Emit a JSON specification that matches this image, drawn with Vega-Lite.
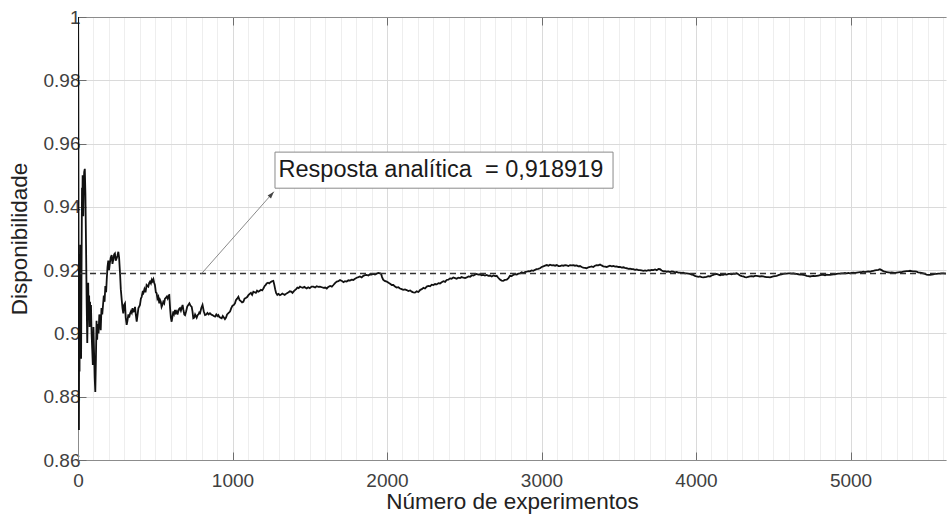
{
  "$schema": "https://vega.github.io/schema/vega-lite/v6.json",
  "width": 868,
  "height": 443,
  "autosize": "none",
  "padding": {"left": 78, "top": 17, "right": 1, "bottom": 57},
  "background": "white",
  "config": {
    "view": {"stroke": null},
    "font": "Liberation Sans",
    "axis": {
      "domainColor": "#8c8c8c",
      "domainWidth": 1,
      "tickColor": "#6e6e6e",
      "labelFont": "Liberation Sans",
      "labelFontSize": 19,
      "labelColor": "#404040",
      "titleFont": "Liberation Sans",
      "titleFontSize": 22.5,
      "titleFontWeight": "normal",
      "titleColor": "#222222"
    }
  },
  "datasets": {
    "sim": [
      {"n":1,"v":1.0},{"n":2,"v":0.985},{"n":3,"v":0.95},{"n":4,"v":0.92},{"n":5,"v":0.89},{"n":6,"v":0.8695},{"n":7,"v":0.895},{"n":8,"v":0.925},{"n":9,"v":0.905},{"n":10,"v":0.888},
      {"n":12,"v":0.92},{"n":14,"v":0.9},{"n":16,"v":0.928},{"n":18,"v":0.905},{"n":20,"v":0.892},{"n":22,"v":0.912},{"n":24,"v":0.93},{"n":26,"v":0.946},{"n":28,"v":0.938},{"n":30,"v":0.95},
      {"n":32,"v":0.942},{"n":34,"v":0.937},{"n":37,"v":0.946},{"n":40,"v":0.951},{"n":44,"v":0.952},{"n":48,"v":0.944},{"n":52,"v":0.928},{"n":56,"v":0.91},{"n":60,"v":0.897},{"n":63,"v":0.906},
      {"n":66,"v":0.916},{"n":69,"v":0.905},{"n":72,"v":0.912},{"n":75,"v":0.902},{"n":78,"v":0.91},{"n":81,"v":0.903},{"n":84,"v":0.909},{"n":88,"v":0.9},{"n":92,"v":0.895},{"n":96,"v":0.89},
      {"n":100,"v":0.902},{"n":104,"v":0.894},{"n":108,"v":0.886},{"n":112,"v":0.8815},{"n":116,"v":0.892},{"n":120,"v":0.904},{"n":124,"v":0.898},{"n":128,"v":0.903},{"n":133,"v":0.9},{"n":138,"v":0.906},
      {"n":142,"v":0.905},{"n":147,"v":0.901},{"n":152,"v":0.908},{"n":157,"v":0.906},{"n":162,"v":0.909},{"n":167,"v":0.912},{"n":172,"v":0.91},{"n":177,"v":0.915},{"n":182,"v":0.913},{"n":186,"v":0.917},
      {"n":191,"v":0.921},{"n":196,"v":0.923},{"n":201,"v":0.92},{"n":207,"v":0.9225},{"n":212,"v":0.924},{"n":218,"v":0.9248},{"n":223,"v":0.922},{"n":229,"v":0.9235},{"n":234,"v":0.925},{"n":239,"v":0.9253},
      {"n":244,"v":0.923},{"n":250,"v":0.9237},{"n":255,"v":0.9245},{"n":261,"v":0.9258},{"n":266,"v":0.924},{"n":272,"v":0.919},{"n":277,"v":0.914},{"n":283,"v":0.9106},{"n":288,"v":0.908},{"n":293,"v":0.9063},
      {"n":298,"v":0.909},{"n":304,"v":0.9095},{"n":309,"v":0.905},{"n":315,"v":0.9027},{"n":320,"v":0.904},{"n":326,"v":0.906},{"n":331,"v":0.905},{"n":337,"v":0.9063},{"n":343,"v":0.907},{"n":348,"v":0.9065},
      {"n":353,"v":0.908},{"n":358,"v":0.9069},{"n":364,"v":0.907},{"n":369,"v":0.9084},{"n":374,"v":0.906},{"n":380,"v":0.9037},{"n":386,"v":0.906},{"n":391,"v":0.908},{"n":396,"v":0.9085},{"n":401,"v":0.909},
      {"n":407,"v":0.911},{"n":412,"v":0.9115},{"n":418,"v":0.913},{"n":423,"v":0.9127},{"n":430,"v":0.914},{"n":437,"v":0.913},{"n":444,"v":0.9153},{"n":450,"v":0.915},{"n":455,"v":0.9148},{"n":461,"v":0.916},
      {"n":466,"v":0.9164},{"n":472,"v":0.9158},{"n":478,"v":0.917},{"n":483,"v":0.9165},{"n":488,"v":0.9171},{"n":493,"v":0.916},{"n":498,"v":0.9153},{"n":504,"v":0.913},{"n":509,"v":0.9127},{"n":514,"v":0.911},
      {"n":520,"v":0.9116},{"n":526,"v":0.9095},{"n":531,"v":0.9106},{"n":536,"v":0.91},{"n":541,"v":0.9084},{"n":546,"v":0.909},{"n":552,"v":0.91},{"n":558,"v":0.9095},{"n":563,"v":0.911},{"n":568,"v":0.9112},
      {"n":574,"v":0.9116},{"n":580,"v":0.911},{"n":586,"v":0.912},{"n":591,"v":0.9121},{"n":596,"v":0.908},{"n":601,"v":0.905},{"n":606,"v":0.9037},{"n":612,"v":0.9055},{"n":617,"v":0.907},{"n":622,"v":0.9062},
      {"n":628,"v":0.9074},{"n":633,"v":0.9065},{"n":639,"v":0.907},{"n":644,"v":0.906},{"n":649,"v":0.9069},{"n":655,"v":0.9078},{"n":660,"v":0.908},{"n":666,"v":0.9072},{"n":671,"v":0.908},{"n":677,"v":0.909},
      {"n":682,"v":0.9075},{"n":688,"v":0.906},{"n":693,"v":0.9058},{"n":700,"v":0.907},{"n":707,"v":0.9085},{"n":714,"v":0.909},{"n":721,"v":0.9095},{"n":728,"v":0.9088},{"n":736,"v":0.9084},{"n":741,"v":0.907},
      {"n":746,"v":0.9048},{"n":752,"v":0.905},{"n":758,"v":0.906},{"n":763,"v":0.9055},{"n":768,"v":0.905},{"n":774,"v":0.9058},{"n":780,"v":0.906},{"n":785,"v":0.9066},{"n":790,"v":0.9064},{"n":798,"v":0.908},
      {"n":806,"v":0.909},{"n":814,"v":0.907},{"n":822,"v":0.9058},{"n":830,"v":0.906},{"n":838,"v":0.9065},{"n":846,"v":0.906},{"n":854,"v":0.9064},{"n":862,"v":0.906},{"n":870,"v":0.9058},{"n":879,"v":0.9055},
      {"n":887,"v":0.9053},{"n":895,"v":0.906},{"n":902,"v":0.9055},{"n":908,"v":0.9058},{"n":915,"v":0.9052},{"n":922,"v":0.905},{"n":930,"v":0.9048},{"n":937,"v":0.9055},{"n":944,"v":0.905},{"n":951,"v":0.9045},
      {"n":958,"v":0.905},{"n":965,"v":0.906},{"n":975,"v":0.9065},{"n":984,"v":0.9069},{"n":992,"v":0.908},{"n":1000,"v":0.9088},{"n":1008,"v":0.909},{"n":1016,"v":0.9095},{"n":1022,"v":0.9105},{"n":1030,"v":0.911},
      {"n":1038,"v":0.9116},{"n":1046,"v":0.9105},{"n":1054,"v":0.9102},{"n":1062,"v":0.9098},{"n":1070,"v":0.91},{"n":1078,"v":0.911},{"n":1086,"v":0.9112},{"n":1095,"v":0.9115},{"n":1103,"v":0.9121},{"n":1111,"v":0.9125},
      {"n":1119,"v":0.9128},{"n":1127,"v":0.9122},{"n":1135,"v":0.9132},{"n":1143,"v":0.913},{"n":1151,"v":0.9128},{"n":1159,"v":0.9135},{"n":1167,"v":0.9132},{"n":1175,"v":0.9134},{"n":1184,"v":0.9138},{"n":1192,"v":0.9136},
      {"n":1200,"v":0.9142},{"n":1208,"v":0.915},{"n":1215,"v":0.9153},{"n":1221,"v":0.9158},{"n":1230,"v":0.916},{"n":1238,"v":0.9158},{"n":1246,"v":0.9162},{"n":1255,"v":0.9165},{"n":1264,"v":0.9166},{"n":1270,"v":0.9155},
      {"n":1276,"v":0.914},{"n":1282,"v":0.9128},{"n":1290,"v":0.9122},{"n":1298,"v":0.9125},{"n":1307,"v":0.9121},{"n":1315,"v":0.9123},{"n":1323,"v":0.9126},{"n":1330,"v":0.9124},{"n":1338,"v":0.9122},{"n":1346,"v":0.9125},
      {"n":1355,"v":0.9128},{"n":1363,"v":0.913},{"n":1371,"v":0.9133},{"n":1380,"v":0.9132},{"n":1388,"v":0.9128},{"n":1396,"v":0.9133},{"n":1404,"v":0.9137},{"n":1412,"v":0.914},{"n":1420,"v":0.9145},{"n":1428,"v":0.9143},
      {"n":1437,"v":0.9148},{"n":1445,"v":0.9146},{"n":1455,"v":0.9144},{"n":1465,"v":0.9147},{"n":1480,"v":0.9142},{"n":1490,"v":0.9146},{"n":1500,"v":0.9143},{"n":1512,"v":0.9148},{"n":1523,"v":0.9148},{"n":1535,"v":0.9145},
      {"n":1545,"v":0.9149},{"n":1555,"v":0.9147},{"n":1566,"v":0.9148},{"n":1578,"v":0.9146},{"n":1590,"v":0.9144},{"n":1600,"v":0.9145},{"n":1610,"v":0.9142},{"n":1620,"v":0.9147},{"n":1632,"v":0.915},{"n":1643,"v":0.9148},
      {"n":1653,"v":0.9153},{"n":1665,"v":0.916},{"n":1675,"v":0.9164},{"n":1685,"v":0.9165},{"n":1696,"v":0.9169},{"n":1708,"v":0.9166},{"n":1718,"v":0.9162},{"n":1728,"v":0.9165},{"n":1739,"v":0.9164},{"n":1750,"v":0.9168},
      {"n":1760,"v":0.9167},{"n":1771,"v":0.917},{"n":1782,"v":0.9169},{"n":1793,"v":0.9173},{"n":1804,"v":0.9176},{"n":1815,"v":0.9178},{"n":1825,"v":0.918},{"n":1836,"v":0.9177},{"n":1847,"v":0.9182},{"n":1857,"v":0.9184},
      {"n":1868,"v":0.9185},{"n":1880,"v":0.9183},{"n":1890,"v":0.9187},{"n":1900,"v":0.9186},{"n":1911,"v":0.9188},{"n":1922,"v":0.9186},{"n":1933,"v":0.9189},{"n":1944,"v":0.9191},{"n":1955,"v":0.919},{"n":1962,"v":0.9188},
      {"n":1968,"v":0.9178},{"n":1975,"v":0.917},{"n":1985,"v":0.9166},{"n":1998,"v":0.9164},{"n":2010,"v":0.916},{"n":2020,"v":0.9157},{"n":2031,"v":0.9153},{"n":2041,"v":0.9153},{"n":2052,"v":0.9148},{"n":2062,"v":0.9145},
      {"n":2073,"v":0.9146},{"n":2084,"v":0.9142},{"n":2095,"v":0.914},{"n":2105,"v":0.9138},{"n":2116,"v":0.9139},{"n":2127,"v":0.9137},{"n":2138,"v":0.9134},{"n":2150,"v":0.9136},{"n":2160,"v":0.9132},{"n":2170,"v":0.913},
      {"n":2181,"v":0.9129},{"n":2192,"v":0.9133},{"n":2203,"v":0.9131},{"n":2214,"v":0.9137},{"n":2225,"v":0.914},{"n":2236,"v":0.9144},{"n":2246,"v":0.9142},{"n":2257,"v":0.9148},{"n":2268,"v":0.915},{"n":2279,"v":0.9149},
      {"n":2290,"v":0.9154},{"n":2300,"v":0.9153},{"n":2311,"v":0.9156},{"n":2322,"v":0.9155},{"n":2333,"v":0.9159},{"n":2343,"v":0.9158},{"n":2354,"v":0.9162},{"n":2365,"v":0.9165},{"n":2376,"v":0.9163},{"n":2386,"v":0.9169},
      {"n":2397,"v":0.917},{"n":2408,"v":0.9174},{"n":2418,"v":0.9173},{"n":2429,"v":0.9177},{"n":2440,"v":0.9175},{"n":2451,"v":0.9173},{"n":2461,"v":0.9176},{"n":2472,"v":0.9175},{"n":2483,"v":0.9178},{"n":2494,"v":0.9176},
      {"n":2505,"v":0.9175},{"n":2516,"v":0.9177},{"n":2527,"v":0.918},{"n":2538,"v":0.9179},{"n":2550,"v":0.9184},{"n":2560,"v":0.9183},{"n":2570,"v":0.9186},{"n":2580,"v":0.9188},{"n":2590,"v":0.9186},{"n":2601,"v":0.9187},
      {"n":2612,"v":0.9184},{"n":2623,"v":0.9185},{"n":2634,"v":0.9183},{"n":2645,"v":0.9185},{"n":2656,"v":0.9182},{"n":2667,"v":0.9183},{"n":2678,"v":0.918},{"n":2689,"v":0.9183},{"n":2700,"v":0.9181},{"n":2710,"v":0.9182},
      {"n":2720,"v":0.9176},{"n":2731,"v":0.917},{"n":2742,"v":0.9167},{"n":2752,"v":0.9166},{"n":2763,"v":0.9169},{"n":2775,"v":0.917},{"n":2786,"v":0.9175},{"n":2796,"v":0.9182},{"n":2807,"v":0.9181},{"n":2818,"v":0.9185},
      {"n":2830,"v":0.9187},{"n":2840,"v":0.9186},{"n":2850,"v":0.9189},{"n":2861,"v":0.919},{"n":2872,"v":0.9193},{"n":2883,"v":0.9191},{"n":2893,"v":0.9194},{"n":2904,"v":0.9195},{"n":2915,"v":0.9197},{"n":2925,"v":0.9196},
      {"n":2936,"v":0.9199},{"n":2947,"v":0.9198},{"n":2958,"v":0.9201},{"n":2968,"v":0.9203},{"n":2979,"v":0.9204},{"n":2990,"v":0.9206},{"n":3001,"v":0.921},{"n":3012,"v":0.9212},{"n":3023,"v":0.9214},{"n":3034,"v":0.9216},
      {"n":3045,"v":0.9214},{"n":3055,"v":0.9217},{"n":3066,"v":0.9215},{"n":3077,"v":0.9216},{"n":3088,"v":0.9214},{"n":3099,"v":0.9216},{"n":3110,"v":0.9213},{"n":3120,"v":0.9213},{"n":3131,"v":0.9215},{"n":3142,"v":0.9214},
      {"n":3153,"v":0.9216},{"n":3163,"v":0.9215},{"n":3174,"v":0.9213},{"n":3185,"v":0.9216},{"n":3195,"v":0.9215},{"n":3206,"v":0.9216},{"n":3217,"v":0.9214},{"n":3228,"v":0.9215},{"n":3238,"v":0.9212},{"n":3249,"v":0.9213},
      {"n":3260,"v":0.921},{"n":3270,"v":0.9208},{"n":3281,"v":0.9207},{"n":3292,"v":0.9206},{"n":3303,"v":0.9209},{"n":3313,"v":0.921},{"n":3324,"v":0.9212},{"n":3335,"v":0.921},{"n":3346,"v":0.9214},{"n":3357,"v":0.9216},
      {"n":3368,"v":0.9215},{"n":3379,"v":0.9218},{"n":3389,"v":0.9215},{"n":3400,"v":0.9212},{"n":3411,"v":0.9211},{"n":3422,"v":0.921},{"n":3432,"v":0.9212},{"n":3443,"v":0.9214},{"n":3454,"v":0.9212},{"n":3465,"v":0.9213},
      {"n":3476,"v":0.9211},{"n":3487,"v":0.9212},{"n":3497,"v":0.921},{"n":3508,"v":0.921},{"n":3519,"v":0.9208},{"n":3530,"v":0.9209},{"n":3540,"v":0.9207},{"n":3551,"v":0.9206},{"n":3562,"v":0.9204},{"n":3573,"v":0.9205},
      {"n":3584,"v":0.9203},{"n":3594,"v":0.9203},{"n":3605,"v":0.9201},{"n":3616,"v":0.9202},{"n":3627,"v":0.92},{"n":3637,"v":0.92},{"n":3648,"v":0.9199},{"n":3659,"v":0.9198},{"n":3670,"v":0.9199},{"n":3680,"v":0.9198},
      {"n":3691,"v":0.92},{"n":3702,"v":0.9199},{"n":3713,"v":0.9201},{"n":3724,"v":0.92},{"n":3735,"v":0.9202},{"n":3746,"v":0.92},{"n":3757,"v":0.9204},{"n":3767,"v":0.9203},{"n":3778,"v":0.9199},{"n":3789,"v":0.9196},
      {"n":3800,"v":0.9197},{"n":3810,"v":0.9195},{"n":3821,"v":0.9196},{"n":3832,"v":0.9194},{"n":3842,"v":0.9196},{"n":3853,"v":0.9195},{"n":3864,"v":0.9193},{"n":3875,"v":0.9194},{"n":3885,"v":0.9192},{"n":3896,"v":0.9192},
      {"n":3907,"v":0.9191},{"n":3918,"v":0.9192},{"n":3928,"v":0.919},{"n":3939,"v":0.919},{"n":3950,"v":0.9189},{"n":3961,"v":0.9188},{"n":3972,"v":0.9186},{"n":3982,"v":0.9185},{"n":3993,"v":0.9182},{"n":4004,"v":0.918},
      {"n":4015,"v":0.9179},{"n":4025,"v":0.918},{"n":4036,"v":0.9178},{"n":4047,"v":0.9177},{"n":4058,"v":0.9178},{"n":4068,"v":0.9179},{"n":4079,"v":0.9181},{"n":4090,"v":0.918},{"n":4101,"v":0.9183},{"n":4112,"v":0.9185},
      {"n":4123,"v":0.9187},{"n":4134,"v":0.9188},{"n":4145,"v":0.9186},{"n":4156,"v":0.9184},{"n":4166,"v":0.9186},{"n":4177,"v":0.9185},{"n":4188,"v":0.9187},{"n":4199,"v":0.9186},{"n":4210,"v":0.9188},{"n":4220,"v":0.9188},
      {"n":4231,"v":0.9187},{"n":4242,"v":0.9189},{"n":4252,"v":0.9188},{"n":4263,"v":0.919},{"n":4274,"v":0.9187},{"n":4285,"v":0.9183},{"n":4296,"v":0.9181},{"n":4306,"v":0.918},{"n":4317,"v":0.9178},{"n":4328,"v":0.9177},
      {"n":4338,"v":0.9179},{"n":4349,"v":0.918},{"n":4360,"v":0.9181},{"n":4371,"v":0.918},{"n":4381,"v":0.9182},{"n":4392,"v":0.9182},{"n":4403,"v":0.9181},{"n":4414,"v":0.918},{"n":4424,"v":0.9181},{"n":4435,"v":0.918},
      {"n":4446,"v":0.9179},{"n":4457,"v":0.9178},{"n":4468,"v":0.9178},{"n":4479,"v":0.9177},{"n":4490,"v":0.9179},{"n":4500,"v":0.918},{"n":4511,"v":0.9181},{"n":4522,"v":0.9182},{"n":4533,"v":0.9184},{"n":4543,"v":0.9186},
      {"n":4554,"v":0.9187},{"n":4565,"v":0.9188},{"n":4576,"v":0.9189},{"n":4587,"v":0.9189},{"n":4597,"v":0.919},{"n":4608,"v":0.919},{"n":4619,"v":0.9189},{"n":4630,"v":0.919},{"n":4641,"v":0.9188},{"n":4651,"v":0.9188},
      {"n":4662,"v":0.9187},{"n":4673,"v":0.9186},{"n":4684,"v":0.9186},{"n":4695,"v":0.9185},{"n":4705,"v":0.9184},{"n":4716,"v":0.9182},{"n":4727,"v":0.9181},{"n":4738,"v":0.918},{"n":4749,"v":0.9181},{"n":4760,"v":0.9182},
      {"n":4770,"v":0.9181},{"n":4781,"v":0.9182},{"n":4792,"v":0.9183},{"n":4803,"v":0.9184},{"n":4813,"v":0.9185},{"n":4824,"v":0.9185},{"n":4835,"v":0.9184},{"n":4846,"v":0.9186},{"n":4856,"v":0.9185},{"n":4867,"v":0.9185},
      {"n":4878,"v":0.9186},{"n":4889,"v":0.9187},{"n":4900,"v":0.9187},{"n":4910,"v":0.9188},{"n":4921,"v":0.9189},{"n":4932,"v":0.9189},{"n":4943,"v":0.919},{"n":4953,"v":0.919},{"n":4964,"v":0.9191},{"n":4975,"v":0.919},
      {"n":4986,"v":0.9191},{"n":4996,"v":0.919},{"n":5007,"v":0.9191},{"n":5018,"v":0.9192},{"n":5029,"v":0.9191},{"n":5040,"v":0.9192},{"n":5051,"v":0.9193},{"n":5062,"v":0.9194},{"n":5072,"v":0.9194},{"n":5083,"v":0.9195},
      {"n":5094,"v":0.9194},{"n":5105,"v":0.9195},{"n":5115,"v":0.9196},{"n":5126,"v":0.9195},{"n":5137,"v":0.9197},{"n":5148,"v":0.9198},{"n":5158,"v":0.9199},{"n":5169,"v":0.92},{"n":5180,"v":0.9201},{"n":5190,"v":0.9203},
      {"n":5201,"v":0.92},{"n":5212,"v":0.9197},{"n":5223,"v":0.9195},{"n":5234,"v":0.9194},{"n":5245,"v":0.9193},{"n":5256,"v":0.9192},{"n":5266,"v":0.9193},{"n":5277,"v":0.9192},{"n":5288,"v":0.9191},{"n":5298,"v":0.9192},
      {"n":5309,"v":0.9193},{"n":5320,"v":0.9194},{"n":5331,"v":0.9194},{"n":5341,"v":0.9195},{"n":5352,"v":0.9196},{"n":5363,"v":0.9197},{"n":5374,"v":0.9197},{"n":5385,"v":0.9198},{"n":5395,"v":0.9197},{"n":5406,"v":0.9196},
      {"n":5417,"v":0.9196},{"n":5428,"v":0.9195},{"n":5438,"v":0.9193},{"n":5449,"v":0.9192},{"n":5460,"v":0.9191},{"n":5471,"v":0.919},{"n":5482,"v":0.9188},{"n":5492,"v":0.9186},{"n":5503,"v":0.9185},{"n":5514,"v":0.9185},
      {"n":5525,"v":0.9186},{"n":5535,"v":0.9187},{"n":5546,"v":0.9188},{"n":5557,"v":0.9188},{"n":5568,"v":0.9189},{"n":5579,"v":0.9189},{"n":5590,"v":0.919},{"n":5600,"v":0.919},{"n":5618,"v":0.9189}
    ],
    "reference": [{"v": 0.918919}],
    "pointer": [{"n": 800, "v": 0.918919}, {"n": 1268, "v": 0.9448}],
    "pointerTip": [{"n": 1268, "v": 0.9448}],
    "box": [{"n": 1275, "n2": 3463, "v": 0.9573, "v2": 0.9459}],
    "note": [{"n": 1298, "v": 0.95165, "label": "Resposta analítica\u00a0 = 0,918919"}]
  },
  "layer": [
    {
      "data": {"name": "sim"},
      "mark": {"type": "line", "color": "#111111", "strokeWidth": 1.8, "clip": true},
      "encoding": {
        "x": {
          "field": "n",
          "type": "quantitative",
          "scale": {"domain": [0, 5618], "nice": false, "zero": false},
          "axis": {
            "orient": "bottom",
            "values": [0,100,200,300,400,500,600,700,800,900,1000,1100,1200,1300,1400,1500,1600,1700,1800,1900,2000,2100,2200,2300,2400,2500,2600,2700,2800,2900,3000,3100,3200,3300,3400,3500,3600,3700,3800,3900,4000,4100,4200,4300,4400,4500,4600,4700,4800,4900,5000,5100,5200,5300,5400,5500,5600],
            "grid": true,
            "gridColor": {"condition": {"test": "datum.value % 1000 === 0", "value": "#dadada"}, "value": "#eeeeee"},
            "gridWidth": 1,
            "tickOpacity": {"condition": {"test": "datum.value % 1000 === 0", "value": 1}, "value": 0},
            "tickSize": -8,
            "labelExpr": "datum.value % 1000 === 0 ? toString(datum.value) : ''",
            "labelPadding": 19,
            "labelFlush": false,
            "labelOverlap": false,
            "title": "Número de experimentos",
            "titlePadding": 0
          }
        },
        "y": {
          "field": "v",
          "type": "quantitative",
          "scale": {"domain": [0.86, 1], "nice": false, "zero": false},
          "axis": {
            "values": [0.86,0.865,0.87,0.875,0.88,0.885,0.89,0.895,0.9,0.905,0.91,0.915,0.92,0.925,0.93,0.935,0.94,0.945,0.95,0.955,0.96,0.965,0.97,0.975,0.98,0.985,0.99,0.995,1],
            "grid": true,
            "gridColor": {"condition": {"test": "round(datum.value * 1000) % 20 === 0", "value": "#dadada"}, "value": "#eeeeee"},
            "gridWidth": 1,
            "tickOpacity": {"condition": {"test": "round(datum.value * 1000) % 20 === 0", "value": 1}, "value": 0},
            "tickSize": -8,
            "labelExpr": "round(datum.value * 1000) % 20 === 0 ? toString(round(datum.value * 100) / 100) : ''",
            "labelPadding": 6,
            "labelFlush": false,
            "labelOverlap": false,
            "title": "Disponibilidade",
            "titlePadding": 12
          }
        }
      }
    },
    {
      "data": {"name": "reference"},
      "mark": {"type": "rule", "color": "#333333", "strokeWidth": 1.5, "strokeDash": [6, 4]},
      "encoding": {
        "y": {"field": "v", "type": "quantitative"}
      }
    },
    {
      "data": {"name": "pointer"},
      "mark": {"type": "line", "color": "#8a8a8a", "strokeWidth": 1},
      "encoding": {
        "x": {
          "field": "n",
          "type": "quantitative",
          "axis": {
            "orient": "top",
            "values": [0, 1000, 2000, 3000, 4000, 5000],
            "labels": false,
            "grid": false,
            "tickSize": -8,
            "title": null
          }
        },
        "y": {"field": "v", "type": "quantitative"}
      }
    },
    {
      "data": {"name": "pointerTip"},
      "mark": {"type": "point", "shape": "M0,0 L-0.32,1 L0.32,1 Z", "filled": true, "color": "#444444", "opacity": 1, "size": 196, "angle": 41},
      "encoding": {
        "x": {"field": "n", "type": "quantitative", "axis": null},
        "y": {"field": "v", "type": "quantitative"}
      }
    },
    {
      "data": {"name": "box"},
      "mark": {"type": "rect", "fill": "white", "stroke": "#8a8a8a", "strokeWidth": 1},
      "encoding": {
        "x": {"field": "n", "type": "quantitative", "axis": null},
        "x2": {"field": "n2"},
        "y": {"field": "v", "type": "quantitative"},
        "y2": {"field": "v2"}
      }
    },
    {
      "data": {"name": "note"},
      "mark": {"type": "text", "align": "left", "baseline": "middle", "font": "Liberation Sans", "fontSize": 23.5, "color": "#1a1a1a"},
      "encoding": {
        "x": {"field": "n", "type": "quantitative", "axis": null},
        "y": {"field": "v", "type": "quantitative"},
        "text": {"field": "label"}
      }
    }
  ],
  "resolve": {"axis": {"x": "independent"}}
}
